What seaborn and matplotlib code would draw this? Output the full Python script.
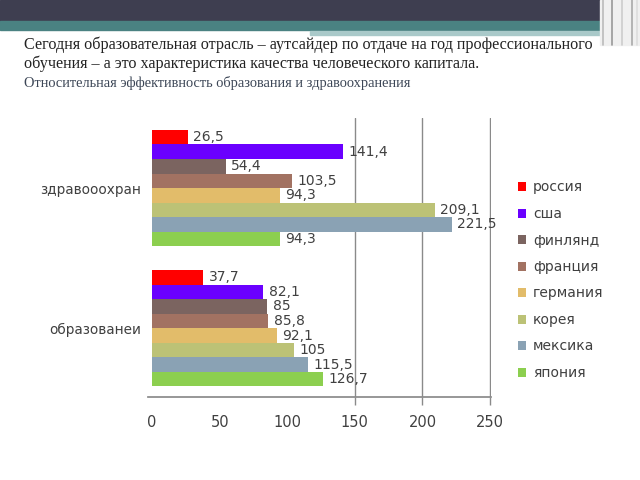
import matplotlib
matplotlib.use("Agg")
import matplotlib.pyplot as plt
import seaborn as sns
import pandas as pd
from matplotlib.patches import Rectangle
from matplotlib.lines import Line2D

categories = ["здравооохран", "образованеи"]
countries = ["россия", "сша", "финлянд", "франция", "германия", "корея", "мексика", "япония"]
health = [26.5, 141.4, 54.4, 103.5, 94.3, 209.1, 221.5, 94.3]
education = [37.7, 82.1, 85, 85.8, 92.1, 105, 115.5, 126.7]
colors = ["#ff0000", "#6a00ff", "#7b6460", "#a27262", "#e2bc6a", "#bcc276", "#8aa2b4", "#8ccf4f"]
xticks = [0, 50, 100, 150, 200, 250]

rows = []
for c, v in zip(countries, health):
    rows.append({"cat": categories[0], "country": c, "value": v})
for c, v in zip(countries, education):
    rows.append({"cat": categories[1], "country": c, "value": v})
df = pd.DataFrame(rows)

sns.set_theme(style="white")
plt.rcParams["font.family"] = ["DejaVu Sans"]

fig = plt.figure(figsize=(6.4, 4.8), dpi=100)
fig.patch.set_facecolor("white")

# slide header decoration
fig.patches.append(Rectangle((0, 1 - 21 / 480), 600 / 640, 21 / 480, transform=fig.transFigure,
                             color="#3e3e50", zorder=0))
fig.patches.append(Rectangle((0, 1 - 30 / 480), 600 / 640, 9 / 480, transform=fig.transFigure,
                             color="#4a8282", zorder=0))
fig.patches.append(Rectangle((310 / 640, 1 - 35 / 480), 290 / 640, 4 / 480, transform=fig.transFigure,
                             color="#a9c9c9", zorder=0))
fig.patches.append(Rectangle((600 / 640, 1 - 45 / 480), 40 / 640, 45 / 480, transform=fig.transFigure,
                             color="#f0f0f0", zorder=0))
for xp, col in [(603, "#bbbbbb"), (612, "#999999"), (622, "#cccccc"), (632, "#aaaaaa"), (637, "#dddddd")]:
    fig.lines.append(Line2D([xp / 640, xp / 640], [1 - 45 / 480, 1], transform=fig.transFigure,
                            color=col, lw=1.2))

fig.text(24 / 640, 1 - 45 / 480, "Сегодня образовательная отрасль – аутсайдер по отдаче на год профессионального",
         family="Liberation Serif", fontsize=11.6, color="#222222", va="center")
fig.text(24 / 640, 1 - 64 / 480, "обучения – а это характеристика качества человеческого капитала.",
         family="Liberation Serif", fontsize=11.6, color="#222222", va="center")
fig.text(24 / 640, 1 - 83 / 480, "Относительная эффективность образования и здравоохранения",
         family="Liberation Serif", fontsize=10.4, color="#3c4656", va="center")

ax = fig.add_axes([148 / 640, 1 - 397 / 480, (491 - 148) / 640, (397 - 118) / 480])
sns.barplot(data=df, x="value", y="cat", hue="country", order=categories, hue_order=countries,
            palette=colors, orient="h", width=0.83, ax=ax, saturation=1, legend=True, linewidth=0)

for cont in ax.containers:
    ax.bar_label(cont, labels=[f"{v:g}".replace(".", ",") for v in cont.datavalues],
                 padding=4, fontsize=10, color="#404040", label_type="edge")

ax.set_xlim(-3, 250.7)
ax.set_ylim(1.49, -0.5)
ax.set_xticks(xticks)
ax.set_xlabel("")
ax.set_ylabel("")
ax.grid(axis="x", color="#8a8a8a", lw=1)
ax.set_axisbelow(True)
for gl, t in zip(ax.get_xgridlines(), xticks):
    if t < 150:
        gl.set_visible(False)
ax.tick_params(axis="x", length=6, width=1, color="#8a8a8a", labelsize=10.5, labelcolor="#404040",
               bottom=True, pad=7)
for tk, t in zip(ax.xaxis.get_major_ticks(), xticks):
    if t < 150:
        tk.tick1line.set_visible(False)
ax.tick_params(axis="y", length=0, labelsize=9.8, labelcolor="#404040", pad=5)
for s in ["top", "right", "left"]:
    ax.spines[s].set_visible(False)
ax.spines["bottom"].set_color("#8a8a8a")

h, l = ax.get_legend_handles_labels()
ax.get_legend().remove()
fig.legend(h, l, loc="upper left", bbox_to_anchor=(505 / 640, 1 - 168 / 480), frameon=False,
           fontsize=10, labelcolor="#404040", handlelength=0.6, handleheight=0.6,
           handletextpad=0.5, labelspacing=0.9)

fig.savefig("out.png", dpi=100)
